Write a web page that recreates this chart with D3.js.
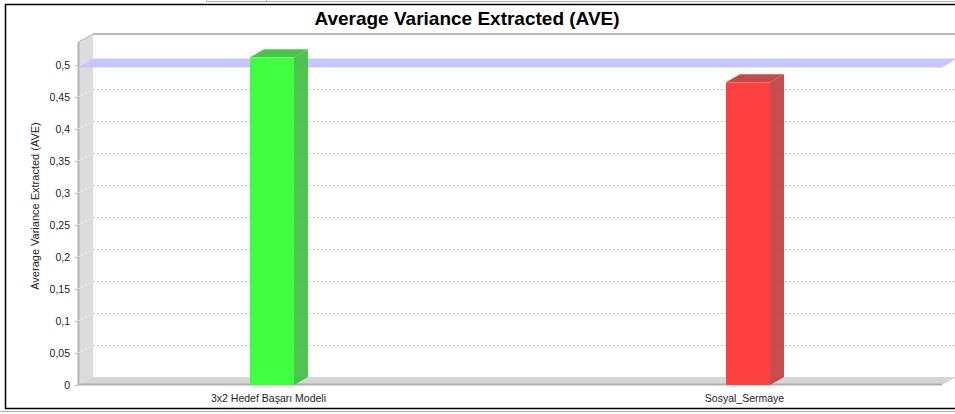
<!DOCTYPE html>
<html>
<head>
<meta charset="utf-8">
<script src="https://cdn.jsdelivr.net/npm/d3@7"></script>
<style>
  body { margin: 0; background: #fff; font-family: "Liberation Sans", Arial, sans-serif; }
</style>
</head>
<body>
<div id="chart"></div>
<script>
// data
var categories = ["3x2 Hedef Başarı Modeli", "Sosyal_Sermaye"];
var aveValues = [0.512, 0.473];
var barColors = [["#40ff40", "#40c040"], ["#ff4040", "#c04040"]];
var threshold = 0.5;
var yTicks = [0, 0.05, 0.1, 0.15, 0.2, 0.25, 0.3, 0.35, 0.4, 0.45, 0.5];
var yTickLabels = ["0", "0,05", "0,1", "0,15", "0,2", "0,25", "0,3", "0,35", "0,4", "0,45", "0,5"];

var width = 955, height = 414;
// front plane of the plot, 3d offset of the back wall
var pLeft = 78, pRight = 942, pTop = 42, pBottom = 385;
var dx = 15, dy = -8;   // wall depth
var bx = 14, by = -8;   // bar depth

var svg = d3.select("#chart").append("svg")
    .attr("width", width)
    .attr("height", height);

// little grey box on top of the frame
svg.append("rect")
    .attr("x", 206.5).attr("y", -3.5)
    .attr("width", 760).attr("height", 5)
    .style("fill", "none").style("stroke", "#aaa");
svg.append("line")
    .attr("x1", 266.5).attr("x2", 266.5).attr("y1", 0).attr("y2", 2)
    .style("stroke", "#aaa");

// outer frame
svg.append("rect")
    .attr("x", 5.5).attr("y", 4.5)
    .attr("width", 960).attr("height", 404)
    .style("fill", "#fff").style("stroke", "#000").style("stroke-width", 1.5);
svg.append("line")
    .attr("x1", 0).attr("x2", width).attr("y1", 411.5).attr("y2", 411.5)
    .style("stroke", "#aaa");

svg.append("text")
    .attr("x", 467).attr("y", 25)
    .attr("text-anchor", "middle")
    .style("font-size", "19px").style("font-weight", "bold")
    .text("Average Variance Extracted (AVE)");

var x = d3.scalePoint()
    .domain(categories)
    .range([268, 744]);

var y = d3.scaleLinear()
    .domain([0, 0.536])
    .range([pBottom, pTop]);

// back wall top edge
svg.append("line")
    .attr("x1", pLeft + dx).attr("x2", pRight + dx + 20)
    .attr("y1", pTop + dy).attr("y2", pTop + dy)
    .style("stroke", "#bbb").style("stroke-width", 2);

// left wall
svg.append("path")
    .attr("d", "M" + pLeft + "," + pTop + "L" + (pLeft + dx) + "," + (pTop + dy) +
      "L" + (pLeft + dx) + "," + (pBottom + dy) + "L" + pLeft + "," + pBottom + "Z")
    .style("fill", "#dcdcdc");
svg.append("line")
    .attr("x1", pLeft + 0.5).attr("x2", pLeft + 0.5).attr("y1", pTop).attr("y2", pBottom)
    .style("stroke", "#b4b4b4").style("stroke-width", 2);
svg.append("line")
    .attr("x1", pLeft + 0.5).attr("x2", pLeft + dx + 0.5).attr("y1", pTop).attr("y2", pTop + dy)
    .style("stroke", "#b4b4b4").style("stroke-width", 1);

// floor
svg.append("path")
    .attr("d", "M" + pLeft + "," + pBottom + "L" + (pLeft + dx) + "," + (pBottom + dy) +
      "L" + (pRight + dx) + "," + (pBottom + dy) + "L" + pRight + "," + pBottom + "Z")
    .style("fill", "#d6d6d6");
svg.append("line")
    .attr("x1", pLeft).attr("x2", pRight).attr("y1", pBottom - 0.5).attr("y2", pBottom - 0.5)
    .style("stroke", "#b0b0b0").style("stroke-width", 2);

// gridlines on the back wall + connectors across the left wall
var gridTicks = yTicks.filter(function(d) { return d > 0 && d != threshold; });
var grid = svg.append("g").attr("class", "grid");
grid.selectAll(".gl")
    .data(gridTicks)
    .enter().append("line")
    .attr("class", "gl")
    .attr("x1", pLeft + dx).attr("x2", pRight + dx)
    .attr("y1", function(d) { return Math.round(y(d) + dy) + 0.5; })
    .attr("y2", function(d) { return Math.round(y(d) + dy) + 0.5; })
    .style("stroke", "#bdbdbd").style("stroke-dasharray", "2,2");
grid.selectAll(".conn")
    .data(gridTicks)
    .enter().append("line")
    .attr("class", "conn")
    .attr("x1", pLeft).attr("x2", pLeft + dx)
    .attr("y1", function(d) { return y(d); })
    .attr("y2", function(d) { return y(d) + dy; })
    .style("stroke", "#f4f4f4").style("stroke-dasharray", "2,2");

// threshold plane
var ty = y(threshold) + 2.5;
svg.append("path")
    .attr("d", "M" + pLeft + "," + ty + "L" + (pLeft + dx) + "," + (ty + dy - 1) +
      "L" + (pRight + dx) + "," + (ty + dy - 1) + "L" + pRight + "," + ty + "Z")
    .style("fill", "#c6c6ff");

// y axis
var yAxis = svg.append("g")
    .attr("transform", "translate(" + pLeft + ",0)")
    .call(d3.axisLeft(y)
      .tickValues(yTicks)
      .tickFormat(function(d, i) { return yTickLabels[i]; })
      .tickSize(3)
      .tickPadding(5));
yAxis.select(".domain").remove();
yAxis.selectAll("line").style("stroke", "#bbb");
yAxis.selectAll("text")
    .style("font-size", "10.5px")
    .style("font-family", "Liberation Sans, Arial, sans-serif")
    .style("fill", "#222");

svg.append("text")
    .attr("transform", "translate(39,206) rotate(-90)")
    .attr("text-anchor", "middle")
    .style("font-size", "11px")
    .style("fill", "#222")
    .text("Average Variance Extracted (AVE)");

// bars
var bars = svg.selectAll(".bar")
    .data(categories)
    .enter().append("g")
    .attr("class", "bar");

var bw = 44;
bars.append("path")   // side
    .attr("d", function(d, i) {
      var x1 = x(d) - 18 + bw, yt = y(aveValues[i]);
      return "M" + x1 + "," + yt + "L" + (x1 + bx) + "," + (yt + by) +
        "L" + (x1 + bx) + "," + (pBottom + by) + "L" + x1 + "," + pBottom + "Z";
    })
    .style("fill", function(d, i) { return barColors[i][1]; })
    .style("opacity", 0.92);
bars.append("path")   // top
    .attr("d", function(d, i) {
      var x0 = x(d) - 18, yt = y(aveValues[i]);
      return "M" + x0 + "," + yt + "L" + (x0 + bx) + "," + (yt + by) +
        "L" + (x0 + bw + bx) + "," + (yt + by) + "L" + (x0 + bw) + "," + yt + "Z";
    })
    .style("fill", function(d, i) { return barColors[i][1]; })
    .style("opacity", 0.95);
bars.append("rect")   // front
    .attr("x", function(d) { return x(d) - 18; })
    .attr("y", function(d, i) { return y(aveValues[i]); })
    .attr("width", bw)
    .attr("height", function(d, i) { return pBottom - y(aveValues[i]); })
    .style("fill", function(d, i) { return barColors[i][0]; });

// x axis labels
var xAxis = svg.append("g")
    .attr("transform", "translate(0," + pBottom + ")")
    .call(d3.axisBottom(x).tickSize(0).tickPadding(10));
xAxis.select(".domain").remove();
xAxis.selectAll("text")
    .style("font-size", "10.5px")
    .style("font-family", "Liberation Sans, Arial, sans-serif")
    .style("fill", "#222");
</script>
</body>
</html>
